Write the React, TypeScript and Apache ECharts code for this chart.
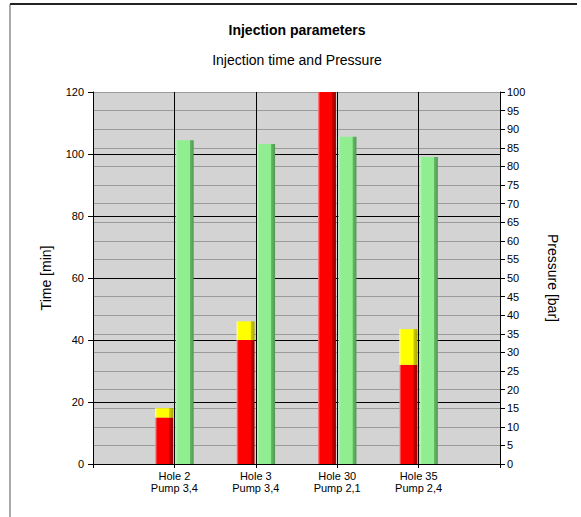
import React, { useEffect, useRef } from "react";
import * as echarts from "echarts";

const holes = ["Hole 2", "Hole 3", "Hole 30", "Hole 35"];
const pumps = ["Pump 3,4", "Pump 3,4", "Pump 2,1", "Pump 2,4"];
const timeMain = [15, 40, 120, 32];
const timeExtra = [3, 6, 0, 11.5];
const pressure = [87, 86, 88, 82.5];

const FONT = "Liberation Sans, Arial, sans-serif";

function grad(light: string, main: string, dark: string, darker: string) {
  return new echarts.graphic.LinearGradient(0, 0, 1, 0, [
    { offset: 0, color: light },
    { offset: 0.12, color: main },
    { offset: 0.77, color: main },
    { offset: 0.8, color: dark },
    { offset: 1, color: darker },
  ]);
}

export default function App() {
  const ref = useRef<HTMLDivElement>(null);
  useEffect(() => {
    if (!ref.current) return;
    const chart = echarts.init(ref.current, undefined, { renderer: "svg" });
    const cats = ["", ...holes.map((h, i) => h + "\n" + pumps[i]), ""];
    const pad = (arr: number[]) => ["-", ...arr, "-"];
    chart.setOption({
      animation: false,
      backgroundColor: "#ffffff",
      textStyle: { fontFamily: FONT },
      title: [
        {
          text: "Injection parameters",
          left: 292,
          top: 18,
          textAlign: "center",
          textStyle: { fontSize: 14, fontWeight: "bold", color: "#000", fontFamily: FONT },
        },
        {
          text: "Injection time and Pressure",
          left: 292,
          top: 48,
          textAlign: "center",
          textStyle: { fontSize: 14, fontWeight: "normal", color: "#000", fontFamily: FONT },
        },
      ],
      graphic: [
        {
          type: "line",
          shape: { x1: 10, y1: 4, x2: 577, y2: 4 },
          style: { stroke: "#222", lineWidth: 2 },
        },
        {
          type: "line",
          shape: { x1: 10, y1: 4, x2: 10, y2: 517 },
          style: { stroke: "#555", lineWidth: 1 },
        },
      ],
      grid: {
        left: 93,
        top: 92,
        right: 81,
        bottom: 53,
        show: true,
        backgroundColor: "#d3d3d3",
        borderWidth: 0,
      },
      xAxis: {
        type: "category",
        data: cats,
        boundaryGap: false,
        axisLine: { show: true, lineStyle: { color: "#000", width: 1 } },
        axisTick: { show: true, length: 4, interval: 0, lineStyle: { color: "#000" } },
        axisLabel: {
          interval: 0,
          fontSize: 11,
          lineHeight: 12,
          color: "#000",
          margin: 6,
          fontFamily: FONT,
        },
        splitLine: { show: true, interval: 0, lineStyle: { color: "#000", width: 1 } },
      },
      yAxis: [
        {
          type: "value",
          min: 0,
          max: 120,
          interval: 20,
          position: "left",
          z: 1,
          name: "Time [min]",
          nameLocation: "middle",
          nameGap: 40,
          nameTextStyle: { fontSize: 14, color: "#000", fontFamily: FONT },
          axisLine: { show: true, lineStyle: { color: "#000", width: 1 } },
          axisTick: { show: true, length: 5, lineStyle: { color: "#000" } },
          axisLabel: { fontSize: 11, color: "#000", margin: 9, fontFamily: FONT },
          splitLine: { show: true, showMaxLine: false, lineStyle: { color: "#000", width: 1 } },
        },
        {
          type: "value",
          min: 0,
          max: 100,
          interval: 5,
          position: "right",
          name: "Pressure [bar]",
          nameLocation: "middle",
          nameRotate: -90,
          nameGap: 46,
          nameTextStyle: { fontSize: 14, color: "#000", fontFamily: FONT },
          axisLine: { show: true, lineStyle: { color: "#000", width: 1 } },
          axisTick: { show: true, length: 5, lineStyle: { color: "#000" } },
          axisLabel: { fontSize: 11, color: "#000", margin: 7, fontFamily: FONT },
          splitLine: { show: true, lineStyle: { color: "#9a9a9a", width: 1 } },
        },
      ],
      series: [
        {
          name: "Time",
          type: "bar",
          stack: "time",
          yAxisIndex: 0,
          barWidth: 18,
          barGap: "14%",
          data: pad(timeMain),
          itemStyle: { color: grad("#ff9a9a", "#ff0000", "#c00000", "#9a0000") },
        },
        {
          name: "Time extra",
          type: "bar",
          stack: "time",
          yAxisIndex: 0,
          barWidth: 18,
          barGap: "14%",
          data: pad(timeExtra),
          itemStyle: { color: grad("#ffffa0", "#ffff00", "#cccc00", "#a8a800") },
        },
        {
          name: "Pressure",
          type: "bar",
          yAxisIndex: 1,
          barWidth: 18,
          barGap: "14%",
          data: pad(pressure),
          itemStyle: { color: grad("#c0f6c0", "#90ee90", "#64b864", "#4f9a4f") },
        },
      ],
    });
    return () => chart.dispose();
  }, []);
  return (
    <div
      ref={ref}
      style={{ position: "fixed", left: 0, top: 0, width: 581, height: 517 }}
    />
  );
}
